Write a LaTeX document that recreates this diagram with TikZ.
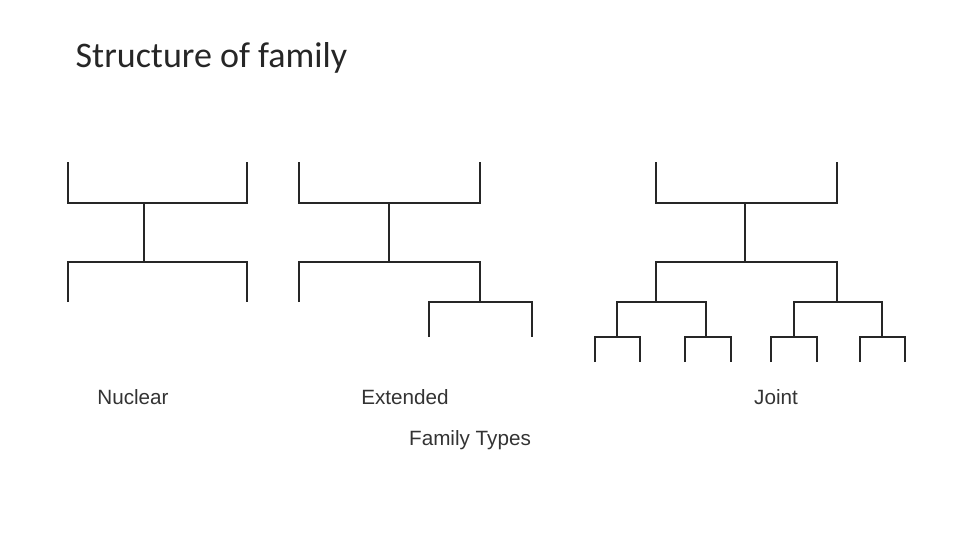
\documentclass[tikz,border=0pt]{standalone}
\usepackage{fontspec}
\setmainfont{Liberation Sans}
\newfontfamily\titlefont{Carlito}
\begin{document}
\begin{tikzpicture}[x=0.75pt,y=-0.75pt,ln/.style={line width=2.2pt,color=black!85}]
\useasboundingbox (0,0) rectangle (960,540);
\node[anchor=west,font=\titlefont\fontsize{27}{30}\selectfont,color=black!85] (title) at (71,58) {Structure of family};
% Nuclear
\draw[ln] (68,162)--(68,203)--(247,203)--(247,162);
\draw[ln] (144,203)--(144,262);
\draw[ln] (68,302)--(68,262)--(247,262)--(247,302);
% Extended
\draw[ln] (299,162)--(299,203)--(480,203)--(480,162);
\draw[ln] (389,203)--(389,262);
\draw[ln] (299,302)--(299,262)--(480,262)--(480,302);
\draw[ln] (429,337)--(429,302)--(532,302)--(532,337);
% Joint
\draw[ln] (656,162)--(656,203)--(837,203)--(837,162);
\draw[ln] (745,203)--(745,262);
\draw[ln] (656,302)--(656,262)--(837,262)--(837,302);
\draw[ln] (617,337)--(617,302)--(706,302)--(706,337);
\draw[ln] (794,337)--(794,302)--(882,302)--(882,337);
\foreach \a/\b in {595/640,685/731,771/817,860/905}
  \draw[ln] (\a,362)--(\a,337)--(\b,337)--(\b,362);
\tikzset{lbl/.style={font=\fontsize{15.5}{18}\selectfont,color=black!80}}
\node[lbl] (n) at (133,397) {Nuclear};
\node[lbl] (e) at (405,397) {Extended};
\node[lbl] (j) at (776,397) {Joint};
\node[lbl] (f) at (470,440) {Family Types};
\end{tikzpicture}
\end{document}
